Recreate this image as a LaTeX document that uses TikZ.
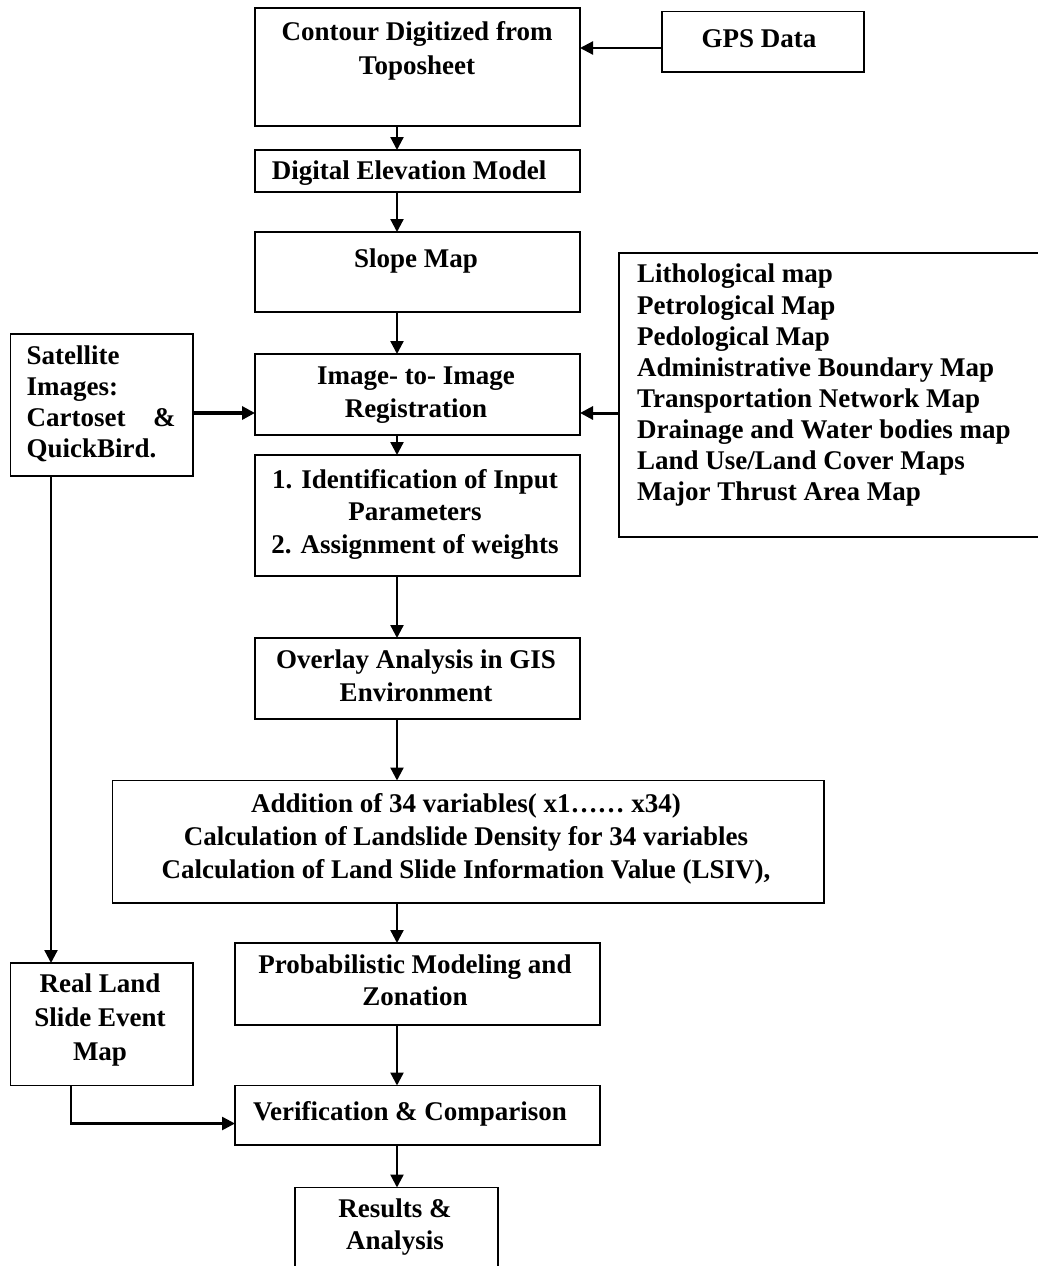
\documentclass[tikz,border=0pt]{standalone}
\usepackage{fontspec}
\setmainfont{Liberation Serif}
\usetikzlibrary{arrows.meta}
\tikzset{
  box/.style={draw, line width=1.6pt, inner sep=0pt, outer sep=0pt},
  txt/.style={font=\bfseries\fontsize{27}{#1}\selectfont, align=center, inner sep=0pt, anchor=north},
  txt/.default=32.5,
  arr/.style={line width=2.3pt, -{Triangle[length=13pt,width=13pt]}},
}
\begin{document}
\begin{tikzpicture}[x=1pt,y=-1pt]
\useasboundingbox (0,0) rectangle (1038,1266);
% boxes
\node[box, minimum width=325pt, minimum height=118pt] (contour) at (417.5,67) {};
\node[box, minimum width=202pt, minimum height=60.5pt] (gps) at (763,41.75) {};
\node[box, minimum width=325pt, minimum height=42pt] (dem) at (417.5,171) {};
\node[box, minimum width=325pt, minimum height=80pt] (slope) at (417.5,272) {};
\node[box, minimum width=325pt, minimum height=81pt] (img) at (417.5,394.5) {};
\node[box, minimum width=325pt, minimum height=121pt] (ident) at (417.5,515.5) {};
\node[box, minimum width=182.5pt, minimum height=142pt] (sat) at (101.75,405) {};
\node[box, minimum width=421pt, minimum height=284pt] (list) at (829.5,395) {};
\node[box, minimum width=325pt, minimum height=81pt] (overlay) at (417.5,678.5) {};
\node[box, minimum width=711.5pt, minimum height=122.5pt] (addition) at (468.25,841.75) {};
\node[box, minimum width=365pt, minimum height=82pt] (prob) at (417.5,984) {};
\node[box, minimum width=182.5pt, minimum height=122.5pt] (real) at (101.75,1024.25) {};
\node[box, minimum width=365pt, minimum height=59.5pt] (verif) at (417.5,1115.25) {};
\node[box, minimum width=203pt, minimum height=102.5pt] (results) at (396.5,1238.75) {};
% texts
\node[txt=34.5] (tcontour) at (417,21) {Contour Digitized from\\Toposheet};
\node[txt] (tgps) at (759,29) {GPS Data};
\node[txt] (tdem) at (409,161) {Digital Elevation Model};
\node[txt] (tslope) at (416,249) {Slope Map};
\node[txt=33] (timg) at (416,367) {Image- to- Image\\Registration};
\node[txt] (tident) at (415,469) {1. Identification of Input\\Parameters\\2. Assignment of weights};
\node[txt=31, anchor=north west, align=left] (tsat) at (26.5,346) {\parbox{149pt}{\fontsize{27}{31}\selectfont\bfseries Satellite\\Images:\\Cartoset\hfill\&\\QuickBird.}};
\node[txt=31.1, anchor=north west, align=left] (tlist) at (637,264) {Lithological map\\Petrological Map\\Pedological Map\\Administrative Boundary Map\\Transportation Network Map\\Drainage and Water bodies map\\Land Use/Land Cover Maps\\Major Thrust Area Map};
\node[txt=33] (toverlay) at (416,650) {Overlay Analysis in GIS\\Environment};
\node[txt=33] (taddition) at (466,793) {Addition of 34 variables( x1…… x34)\\Calculation of Landslide Density for 34 variables\\Calculation of Land Slide Information Value (LSIV),};
\node[txt=31.5] (tprob) at (415,955) {Probabilistic Modeling and\\Zonation};
\node[txt=34] (treal) at (100,974) {Real Land\\Slide Event\\Map};
\node[txt] (tverif) at (410,1101) {Verification \& Comparison};
\node[txt=32] (tresults) at (395,1199) {Results \&\\Analysis};
% connectors
\coordinate (mx) at (397,0);
\coordinate (gy) at (0,48);
\coordinate (ry) at (0,413);
\coordinate (sx) at (51,0);
\coordinate (rx) at (71,0);
\coordinate (vy) at (0,1123.5);
\draw[arr] (contour.south -| mx) -- (dem.north -| mx);
\draw[arr] (dem.south -| mx) -- (slope.north -| mx);
\draw[arr] (slope.south -| mx) -- (img.north -| mx);
\draw[arr] (img.south -| mx) -- (ident.north -| mx);
\draw[arr] (ident.south -| mx) -- (overlay.north -| mx);
\draw[arr] (overlay.south -| mx) -- (addition.north -| mx);
\draw[arr] (addition.south -| mx) -- (prob.north -| mx);
\draw[arr] (prob.south -| mx) -- (verif.north -| mx);
\draw[arr] (verif.south -| mx) -- (results.north -| mx);
\draw[arr] (gps.west |- gy) -- (contour.east |- gy);
\draw[arr, line width=3.3pt] (sat.east |- ry) -- (img.west |- ry);
\draw[arr, line width=3pt] (list.west |- ry) -- (img.east |- ry);
\draw[arr] (sat.south -| sx) -- (real.north -| sx);
\draw[arr, line width=2.6pt] (real.south -| rx) |- (verif.west |- vy);
\end{tikzpicture}
\end{document}
